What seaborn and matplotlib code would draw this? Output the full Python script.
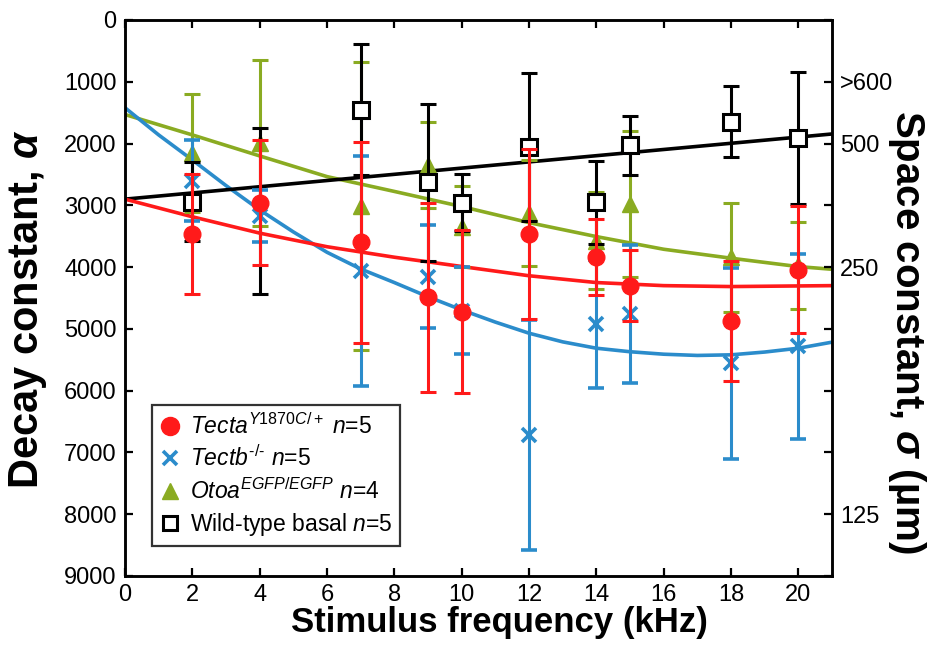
import matplotlib
matplotlib.use("Agg")
import matplotlib.pyplot as plt
from matplotlib.lines import Line2D
import pandas as pd
import seaborn as sns

# ----------------------------------------------------------------------------
# Data (decay constant alpha, mean and error)
# ----------------------------------------------------------------------------
freq = [2, 4, 7, 9, 10, 12, 14, 15, 18, 20]

tecta_mean = [3460, 2960, 3600, 4485, 4720, 3460, 3840, 4300, 4870, 4040]
tecta_err = [970, 1010, 1625, 1530, 1315, 1378, 615, 580, 975, 1030]

tectb_mean = [2600, 3170, 4060, 4155, 4705, 6715, 4920, 4760, 5560, 5280]
tectb_err = [650, 420, 1865, 830, 705, 1860, 1030, 1120, 1550, 1500]

otoa_mean = [2150, 1990, 3010, 2345, 3345, 3120, 3570, 2980, 3840, 3970]
otoa_err = [950, 1343, 2330, 700, 650, 855, 780, 1180, 880, 707]

wt_mean = [2940, 3090, 1450, 2630, 2955, 2060, 2950, 2030, 1650, 1910]
wt_err = [640, 1340, 1060, 1275, 465, 1200, 670, 480, 575, 1065]
# the wild-type square at 4 kHz is not visible in the figure (covered)
wt_marker_idx = [0, 2, 3, 4, 5, 6, 7, 8, 9]

# fitted curves, sampled off the figure
fit_x = [0, 2, 4, 6, 8, 10, 12, 14, 16, 18, 20, 21]
tecta_fit = [2900, 3185, 3450, 3670, 3840, 3990, 4140, 4250, 4300, 4315, 4305, 4300]
otoa_fit = [1530, 1860, 2200, 2535, 2775, 3020, 3280, 3506, 3711, 3856, 3992, 4035]

blue_fit_x = list(range(0, 22))
tectb_fit = [1420, 1860, 2265, 2680, 3074, 3430, 3760, 4030, 4250, 4480, 4693,
             4890, 5070, 5210, 5313, 5370, 5410, 5430, 5420, 5375, 5313, 5215]

wt_fit_x = [0, 21]
wt_fit = [2900, 1845]

x_ticks = list(range(0, 21, 2))
y_ticks = list(range(0, 9001, 1000))
right_ticks = list(range(0, 9001, 1000))
right_labels = {1000: ">600", 2000: "500", 4000: "250", 8000: "125"}

labels = [
    r"$\mathit{Tecta}^{\mathit{Y1870C/+}}$ $\mathit{n}$=5",
    r"$\mathit{Tectb}^{\mathit{\text{-/-}}}$ $\mathit{n}$=5",
    r"$\mathit{Otoa}^{\mathit{EGFP/EGFP}}$ $\mathit{n}$=4",
    r"Wild-type basal $\mathit{n}$=5",
]

RED = "#ff1a1a"
BLUE = "#2b8ccb"
GREEN = "#8aab22"
BLACK = "#000000"

# ----------------------------------------------------------------------------
# Style
# ----------------------------------------------------------------------------
sns.set_style("ticks")
plt.rcParams["font.family"] = ["Liberation Sans", "DejaVu Sans"]
plt.rcParams["mathtext.fontset"] = "custom"
plt.rcParams["mathtext.rm"] = "Liberation Sans"
plt.rcParams["mathtext.it"] = "Liberation Sans:italic"
plt.rcParams["mathtext.bf"] = "Liberation Sans:bold"
plt.rcParams["mathtext.bfit"] = "Liberation Sans:italic:bold"
for key in ["text.color", "axes.labelcolor", "xtick.color", "ytick.color",
            "axes.edgecolor"]:
    plt.rcParams[key] = "black"

fig = plt.figure(figsize=(9.34, 6.6), dpi=100)
ax = fig.add_axes([0.1338, 0.1273, 0.7570, 0.8424])

# fitted curves first
for xs, ys, c in [(fit_x, otoa_fit, GREEN), (blue_fit_x, tectb_fit, BLUE),
                  (wt_fit_x, wt_fit, BLACK), (fit_x, tecta_fit, RED)]:
    df = pd.DataFrame({"x": xs, "y": ys})
    sns.lineplot(data=df, x="x", y="y", color=c, lw=2.6, ax=ax,
                 legend=False, zorder=2)

ebkw = dict(capsize=5.5, elinewidth=2.2, capthick=2.2, ls="none")
ax.errorbar(freq, otoa_mean, yerr=otoa_err, marker="^", ms=11, color=GREEN,
            zorder=3, **ebkw)
ax.errorbar(freq, tectb_mean, yerr=tectb_err, marker="x", ms=9.5, mew=2.6,
            color=BLUE, zorder=4, **ebkw)
ax.errorbar(freq, wt_mean, yerr=wt_err, marker="s", ms=11, mew=2.2,
            mfc="white", mec=BLACK, color=BLACK, zorder=5,
            markevery=wt_marker_idx, **ebkw)
ax.errorbar(freq, tecta_mean, yerr=tecta_err, marker="o", ms=12, color=RED,
            zorder=6, **ebkw)

ax.set_xlim(0, 21)
ax.set_ylim(9000, 0)
ax.set_xticks(x_ticks)
ax.set_yticks(y_ticks)
ax.tick_params(axis="both", direction="in", length=6, width=1.6,
               labelsize=17, top=True, pad=6)
for s in ax.spines.values():
    s.set_linewidth(1.8)
    s.set_visible(True)

ax.set_xlabel("Stimulus frequency (kHz)", fontsize=25, fontweight="bold",
              va="center")
ax.xaxis.set_label_coords(0.529, -0.083)
ax.set_ylabel(r"Decay constant, $\mathbfit{\alpha}$", fontsize=30,
              fontweight="bold", va="center")
ax.yaxis.set_label_coords(-0.137, 0.48)

ax2 = ax.twinx()
ax2.set_ylim(9000, 0)
ax2.set_yticks(right_ticks)
ax2.set_yticklabels([right_labels.get(t, "") for t in right_ticks])
ax2.tick_params(axis="y", direction="in", length=6, width=1.6,
                labelsize=17, pad=6)
for s in ax2.spines.values():
    s.set_linewidth(1.8)
ax2.set_ylabel(r"Space constant, $\mathbfit{\sigma}$ (µm)", fontsize=29,
               fontweight="bold", rotation=270, va="center")
ax2.yaxis.set_label_coords(1.106, 0.44)

handles = [
    Line2D([], [], ls="none", marker="o", ms=13, color=RED),
    Line2D([], [], ls="none", marker="x", ms=10, mew=2.6, color=BLUE),
    Line2D([], [], ls="none", marker="^", ms=12, color=GREEN),
    Line2D([], [], ls="none", marker="s", ms=10, mew=2.2, mfc="white",
           mec=BLACK),
]
leg = ax.legend(handles, labels, loc="lower left",
                bbox_to_anchor=(0.038, 0.054), fontsize=16.5, frameon=True,
                fancybox=False, edgecolor="black", handlelength=0.9,
                handletextpad=0.4, borderpad=0.35, labelspacing=0.3,
                borderaxespad=0)
leg.get_frame().set_linewidth(1.6)
leg.set_zorder(10)

fig.savefig("out.png", dpi=100)
